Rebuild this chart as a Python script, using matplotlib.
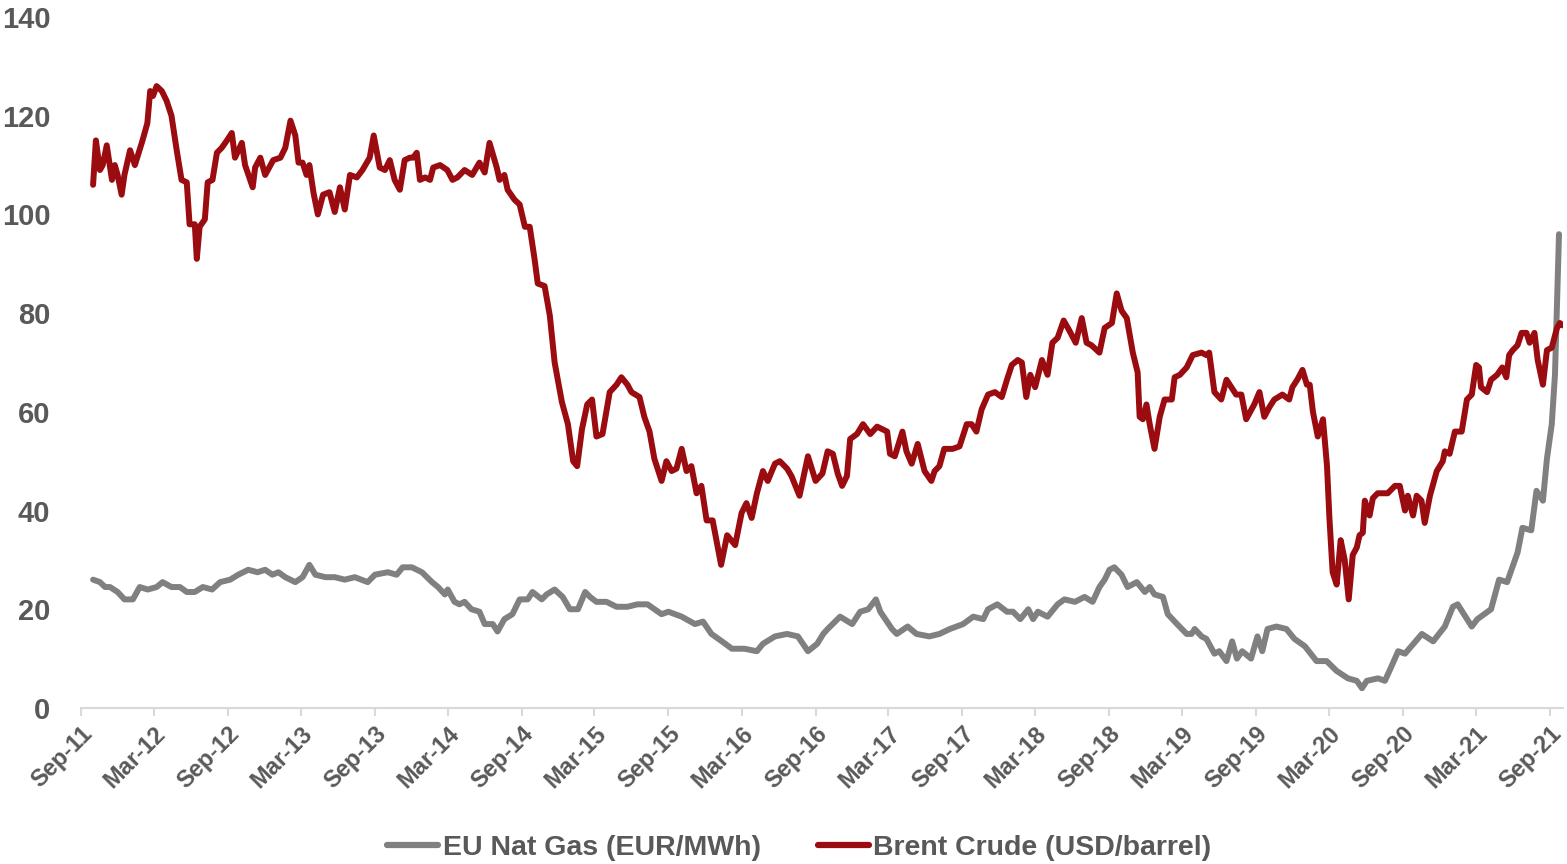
import matplotlib
matplotlib.use("Agg")
import matplotlib.pyplot as plt
import matplotlib.dates as mdates
import pandas as pd

plt.rcParams['font.family'] = ['Liberation Sans Narrow', 'Liberation Sans', 'DejaVu Sans']

# Brent crude, USD/barrel
brent_dates = [
    "2011-10-01", "2011-10-08", "2011-10-18", "2011-10-25", "2011-11-04", "2011-11-17",
    "2011-11-24", "2011-12-01", "2011-12-11", "2011-12-18", "2012-01-01", "2012-01-13",
    "2012-02-01", "2012-02-13", "2012-02-20", "2012-02-27", "2012-03-07", "2012-03-20",
    "2012-04-01", "2012-04-13", "2012-04-26", "2012-05-08", "2012-05-21", "2012-05-28",
    "2012-06-10", "2012-06-15", "2012-06-22", "2012-07-05", "2012-07-12", "2012-07-24",
    "2012-08-04", "2012-08-16", "2012-08-29", "2012-09-10", "2012-09-18", "2012-10-05",
    "2012-10-13", "2012-11-01", "2012-11-07", "2012-11-20", "2012-12-02", "2012-12-22",
    "2013-01-09", "2013-01-21", "2013-02-03", "2013-02-15", "2013-02-23", "2013-03-05",
    "2013-03-15", "2013-03-22", "2013-04-01", "2013-04-12", "2013-04-25", "2013-05-11",
    "2013-05-24", "2013-06-06", "2013-06-18", "2013-07-01", "2013-07-18", "2013-08-01",
    "2013-08-19", "2013-08-29", "2013-09-13", "2013-09-26", "2013-10-08", "2013-10-20",
    "2013-11-02", "2013-11-14", "2013-11-27", "2013-12-05", "2013-12-14", "2013-12-22",
    "2014-01-04", "2014-01-16", "2014-01-24", "2014-02-10", "2014-02-28", "2014-03-13",
    "2014-03-25", "2014-04-12", "2014-05-01", "2014-05-19", "2014-06-01", "2014-06-13",
    "2014-07-01", "2014-07-08", "2014-07-20", "2014-07-28", "2014-08-14", "2014-08-27",
    "2014-09-09", "2014-09-21", "2014-10-03", "2014-10-11", "2014-10-28", "2014-11-10",
    "2014-11-22", "2014-12-10", "2014-12-25", "2015-01-07", "2015-01-17", "2015-01-29",
    "2015-02-11", "2015-02-23", "2015-03-06", "2015-03-21", "2015-04-08", "2015-04-25",
    "2015-05-07", "2015-05-22", "2015-06-01", "2015-06-21", "2015-07-03", "2015-07-16",
    "2015-07-28", "2015-08-05", "2015-08-15", "2015-08-27", "2015-09-09", "2015-09-21",
    "2015-10-04", "2015-10-16", "2015-10-28", "2015-11-10", "2015-11-22", "2015-12-05",
    "2015-12-20", "2016-01-10", "2016-01-25", "2016-02-14", "2016-03-01", "2016-03-13",
    "2016-03-26", "2016-04-08", "2016-04-23", "2016-05-05", "2016-05-23", "2016-06-04",
    "2016-06-22", "2016-07-03", "2016-07-23", "2016-08-13", "2016-09-01", "2016-09-18",
    "2016-10-01", "2016-10-14", "2016-10-26", "2016-11-06", "2016-11-18", "2016-11-26",
    "2016-12-13", "2016-12-28", "2017-01-15", "2017-02-01", "2017-02-26", "2017-03-05",
    "2017-03-17", "2017-04-05", "2017-04-15", "2017-04-28", "2017-05-13", "2017-05-30",
    "2017-06-16", "2017-06-24", "2017-07-06", "2017-07-18", "2017-08-08", "2017-08-25",
    "2017-09-12", "2017-09-24", "2017-10-06", "2017-10-19", "2017-11-04", "2017-11-21",
    "2017-12-08", "2017-12-21", "2018-01-02", "2018-01-17", "2018-01-27", "2018-02-07",
    "2018-02-17", "2018-03-01", "2018-03-18", "2018-04-01", "2018-04-13", "2018-04-26",
    "2018-05-11", "2018-05-25", "2018-06-10", "2018-06-25", "2018-07-07", "2018-07-19",
    "2018-08-08", "2018-08-21", "2018-09-08", "2018-09-20", "2018-10-02", "2018-10-15",
    "2018-10-30", "2018-11-11", "2018-11-16", "2018-11-24", "2018-12-03", "2018-12-11",
    "2018-12-23", "2019-01-05", "2019-01-17", "2019-02-04", "2019-02-11", "2019-02-24",
    "2019-03-13", "2019-03-28", "2019-04-19", "2019-05-01", "2019-05-08", "2019-05-21",
    "2019-06-07", "2019-06-20", "2019-07-02", "2019-07-14", "2019-07-27", "2019-08-08",
    "2019-08-28", "2019-09-10", "2019-09-22", "2019-10-05", "2019-10-17", "2019-11-06",
    "2019-11-23", "2019-12-01", "2019-12-13", "2019-12-26", "2020-01-06", "2020-01-13",
    "2020-01-21", "2020-02-02", "2020-02-15", "2020-02-25", "2020-03-02", "2020-03-10",
    "2020-03-20", "2020-03-30", "2020-04-09", "2020-04-19", "2020-04-29", "2020-05-09",
    "2020-05-16", "2020-05-24", "2020-05-29", "2020-06-10", "2020-06-18", "2020-06-30",
    "2020-07-25", "2020-08-12", "2020-08-24", "2020-09-06", "2020-09-13", "2020-09-26",
    "2020-10-05", "2020-10-17", "2020-10-25", "2020-11-07", "2020-11-24", "2020-12-09",
    "2020-12-14", "2020-12-26", "2021-01-08", "2021-01-25", "2021-02-07", "2021-02-19",
    "2021-03-02", "2021-03-09", "2021-03-14", "2021-03-29", "2021-04-08", "2021-04-23",
    "2021-05-06", "2021-05-16", "2021-05-23", "2021-06-01", "2021-06-13", "2021-06-23",
    "2021-07-05", "2021-07-13", "2021-07-25", "2021-08-02", "2021-08-15", "2021-08-25",
    "2021-09-06", "2021-09-19", "2021-09-26", "2021-10-04",
]
brent_values = [
    106, 115, 109, 110, 114, 107,
    110, 108, 104, 108, 113, 110,
    115, 118.5, 125, 124, 126, 125,
    123, 120, 113, 107, 106.5, 98,
    98, 91, 97.5, 99, 106.5, 107,
    112.5, 113.5, 115, 116.5, 111.5, 114.5,
    110, 105.5, 109.5, 111.5, 108, 111,
    111.5, 113.5, 119, 116, 110.5, 110.5,
    108, 110, 104.5, 100, 104, 104.5,
    100.5, 105.5, 101, 108, 107.5, 109,
    111.5, 116, 109.5, 109, 111, 107,
    105, 111, 111.5, 111.5, 112.5, 107,
    107.5, 107, 109.5, 110, 109, 107,
    107.5, 109, 108, 110.5, 108.5, 114.5,
    109.5, 107, 108, 105, 103, 102,
    97.5, 97.5, 91, 86, 85.5, 79.5,
    70, 62, 57.5, 50, 49, 56.5,
    61.5, 62.5, 55, 55.5, 64, 65.5,
    67, 65.5, 64, 63, 59, 56,
    50.5, 48.5, 46, 50, 48, 48.5,
    52.5, 48, 49, 43.5, 45, 38,
    38, 29, 35, 33, 39.5, 41.5,
    38.5, 43.5, 48, 46, 49.5, 50,
    48.5, 47, 43, 51, 46, 47.5,
    52, 51.5, 47.5, 45, 47, 54.5,
    55.5, 57.5, 55.5, 57, 56, 51.5,
    51, 56, 52, 49.5, 53.5, 48,
    46, 48, 49, 52.5, 52.5, 53,
    57.5, 57.5, 56, 60.5, 63.5, 64,
    63, 66.5, 69.5, 70.5, 70, 63,
    67.5, 65, 70.5, 67.5, 74, 75,
    78.5, 76.5, 74, 79, 74, 73.5,
    72, 77, 78, 84, 80.5, 79,
    72, 68, 59, 58.5, 61.5, 57.5,
    52.5, 59, 62.5, 62.5, 67, 67.5,
    69, 71.5, 72, 71.5, 72, 64,
    62.5, 66.5, 65, 63.5, 63.5, 58.5,
    61.5, 64, 59, 61, 62.5, 63.5,
    62.5, 65, 66.5, 68.5, 65.5, 65.5,
    60, 55, 58.5, 49, 38.5, 27.5,
    25, 34, 30, 22, 31, 32.5,
    35, 35.5, 42, 39, 42.5, 43.5,
    43.5, 45, 45, 40, 43, 39,
    43, 42, 37.5, 43, 48, 50,
    52, 51.5, 56, 56, 62.5, 63.5,
    69.5, 69, 65, 64, 66.5, 67.5,
    69, 67, 71.5, 72.5, 73.5, 76,
    76, 74, 76, 70.5, 65.5, 72.5,
    73, 77, 78, 77.5,
]

# EU natural gas (TTF), EUR/MWh
gas_dates = [
    "2011-10-01", "2011-10-18", "2011-10-31", "2011-11-12", "2011-12-01", "2011-12-18",
    "2012-01-08", "2012-01-25", "2012-02-14", "2012-03-07", "2012-03-22", "2012-04-13",
    "2012-05-04", "2012-05-21", "2012-06-10", "2012-06-30", "2012-07-23", "2012-08-12",
    "2012-09-06", "2012-09-26", "2012-10-21", "2012-11-13", "2012-12-02", "2012-12-20",
    "2013-01-04", "2013-01-21", "2013-02-15", "2013-03-05", "2013-03-22", "2013-04-06",
    "2013-05-01", "2013-05-24", "2013-06-18", "2013-07-13", "2013-08-14", "2013-09-01",
    "2013-10-03", "2013-10-25", "2013-11-09", "2013-12-02", "2013-12-27", "2014-01-21",
    "2014-02-05", "2014-02-22", "2014-03-01", "2014-03-18", "2014-03-30", "2014-04-12",
    "2014-04-29", "2014-05-19", "2014-06-01", "2014-06-21", "2014-07-03", "2014-07-20",
    "2014-08-09", "2014-08-27", "2014-09-16", "2014-09-28", "2014-10-21", "2014-11-02",
    "2014-11-22", "2014-12-12", "2014-12-30", "2015-01-19", "2015-02-06", "2015-02-18",
    "2015-03-06", "2015-03-31", "2015-04-25", "2015-05-22", "2015-06-16", "2015-07-11",
    "2015-08-15", "2015-09-01", "2015-10-04", "2015-11-06", "2015-11-26", "2015-12-17",
    "2016-01-12", "2016-02-06", "2016-03-08", "2016-04-08", "2016-04-23", "2016-05-23",
    "2016-06-22", "2016-07-19", "2016-08-13", "2016-09-05", "2016-09-20", "2016-10-01",
    "2016-11-01", "2016-12-01", "2016-12-21", "2017-01-10", "2017-01-29", "2017-02-09",
    "2017-03-10", "2017-03-22", "2017-04-18", "2017-05-10", "2017-06-11", "2017-07-06",
    "2017-08-01", "2017-09-03", "2017-09-28", "2017-10-23", "2017-11-04", "2017-11-27",
    "2017-12-21", "2018-01-05", "2018-01-23", "2018-02-12", "2018-02-24", "2018-03-08",
    "2018-04-01", "2018-04-26", "2018-05-13", "2018-06-08", "2018-07-02", "2018-07-22",
    "2018-08-08", "2018-08-21", "2018-09-02", "2018-09-14", "2018-10-02", "2018-10-17",
    "2018-11-09", "2018-11-29", "2018-12-11", "2018-12-23", "2019-01-13", "2019-01-25",
    "2019-02-17", "2019-03-13", "2019-03-25", "2019-04-02", "2019-04-19", "2019-05-01",
    "2019-05-21", "2019-06-02", "2019-06-20", "2019-07-04", "2019-07-16", "2019-07-29",
    "2019-08-20", "2019-09-05", "2019-09-17", "2019-09-30", "2019-10-22", "2019-11-16",
    "2019-12-06", "2020-01-01", "2020-01-30", "2020-02-24", "2020-03-20", "2020-04-17",
    "2020-05-09", "2020-05-22", "2020-06-03", "2020-07-01", "2020-07-18", "2020-08-01",
    "2020-08-20", "2020-09-06", "2020-10-18", "2020-11-15", "2020-12-14", "2021-01-03",
    "2021-01-15", "2021-02-19", "2021-03-05", "2021-04-08", "2021-04-28", "2021-05-18",
    "2021-06-13", "2021-06-25", "2021-07-17", "2021-07-30", "2021-08-15", "2021-08-25",
    "2021-09-06", "2021-09-14", "2021-09-24",
]
gas_values = [
    26, 25.5, 24.5, 24.5, 23.5, 22,
    22, 24.5, 24, 24.5, 25.5, 24.5,
    24.5, 23.5, 23.5, 24.5, 24, 25.5,
    26, 27, 28, 27.5, 28, 27,
    27.5, 26.5, 25.5, 26.5, 29, 27,
    26.5, 26.5, 26, 26.5, 25.5, 27,
    27.5, 27, 28.5, 28.5, 27.5, 25.5,
    24.5, 23, 24, 21.5, 21, 21.5,
    20, 19.5, 17, 17, 15.5, 18,
    19, 22, 22, 23.5, 22, 23,
    24, 22.5, 20, 20, 23.5, 22.5,
    21.5, 21.5, 20.5, 20.5, 21, 21,
    19, 19.5, 18.5, 17, 17.5, 15,
    13.5, 12, 12, 11.5, 13, 14.5,
    15, 14.5, 11.5, 13, 15, 16,
    18.5, 17, 19.5, 20, 22, 19.5,
    16, 15, 16.5, 15, 14.5, 15,
    16, 17, 18.5, 18, 20, 21,
    19.5, 19.5, 18, 20, 18, 19.5,
    18.5, 21, 22, 21.5, 22.5, 21.5,
    24.5, 26, 28, 28.5, 27, 24.5,
    25.5, 23.5, 24.5, 23, 22.5, 19,
    17, 15, 15, 16, 14.5, 14,
    11, 11.5, 9.5, 13.5, 10, 11.5,
    10, 14.5, 11.5, 16, 16.5, 16,
    14, 12.5, 9.5, 9.5, 7.5, 6,
    5.5, 4, 5.5, 6, 5.5, 8,
    11.5, 11, 15, 13.5, 16.5, 20.5,
    21, 16.5, 18, 20, 26, 25.5,
    31.5, 36.5, 36, 44, 42, 50.5,
    57.5, 67.5, 96,
]

tick_dates = pd.date_range("2011-09-01", "2021-09-01", freq="6MS")

TEXT = "#595959"
AXIS = "#D9D9D9"

fig = plt.figure(figsize=(15.67, 8.64), dpi=100)
ax = fig.add_axes([0.0517, 0.1806, 0.9455, 0.7997])

ax.plot(pd.to_datetime(gas_dates), gas_values, color="#808080", lw=4.3,
        solid_joinstyle="round", solid_capstyle="round", label="EU Nat Gas (EUR/MWh)")
ax.plot(pd.to_datetime(brent_dates), brent_values, color="#9B0C10", lw=4.3,
        solid_joinstyle="round", solid_capstyle="round", label="Brent Crude (USD/barrel)")

ax.set_ylim(0, 140)
ax.set_yticks(range(0, 141, 20))
ax.set_xlim(pd.Timestamp("2011-09-01"), pd.Timestamp("2021-10-03"))
ax.set_xticks(tick_dates)
ax.xaxis.set_major_formatter(mdates.DateFormatter("%b-%y"))

for s in ["top", "right", "left"]:
    ax.spines[s].set_visible(False)
ax.spines["bottom"].set_color(AXIS)
ax.spines["bottom"].set_linewidth(1.5)

ax.tick_params(axis="y", length=0, pad=22, labelsize=21, labelcolor=TEXT)
ax.tick_params(axis="x", length=6, width=1.5, color=AXIS, pad=4,
               labelsize=17, labelcolor=TEXT)
for lab in ax.get_yticklabels():
    lab.set_fontweight("bold")
for lab in ax.get_xticklabels():
    lab.set_fontweight("bold")
    lab.set_rotation(45)
    lab.set_ha("right")
    lab.set_va("top")
    lab.set_rotation_mode("anchor")

leg = fig.legend(loc="center", bbox_to_anchor=(0.51, 0.018), ncol=2, frameon=False,
                 handlelength=1.8, handletextpad=0.15, columnspacing=2.0,
                 prop={"size": 20.5, "weight": "bold"})
for t in leg.get_texts():
    t.set_color(TEXT)
for h in leg.get_lines():
    h.set_linewidth(4.5)

fig.savefig("out.png", dpi=100)
